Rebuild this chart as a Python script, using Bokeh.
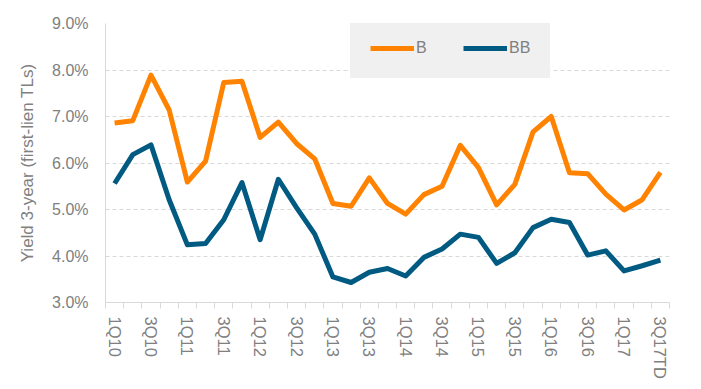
from bokeh.plotting import figure
from bokeh.models import Range1d, FixedTicker, PrintfTickFormatter, Legend, LegendItem
from bokeh.embed import file_html
from bokeh.resources import INLINE

quarters = ["1Q10", "2Q10", "3Q10", "4Q10", "1Q11", "2Q11", "3Q11", "4Q11",
            "1Q12", "2Q12", "3Q12", "4Q12", "1Q13", "2Q13", "3Q13", "4Q13",
            "1Q14", "2Q14", "3Q14", "4Q14", "1Q15", "2Q15", "3Q15", "4Q15",
            "1Q16", "2Q16", "3Q16", "4Q16", "1Q17", "2Q17", "3Q17TD"]
b_yield = [6.86, 6.91, 7.89, 7.14, 5.59, 6.04, 7.73, 7.76, 6.55, 6.88, 6.42, 6.09,
           5.13, 5.07, 5.68, 5.13, 4.90, 5.32, 5.50, 6.38, 5.90, 5.10, 5.54, 6.67,
           7.00, 5.79, 5.77, 5.33, 4.99, 5.21, 5.80]
bb_yield = [5.56, 6.18, 6.39, 5.21, 4.24, 4.27, 4.78, 5.58, 4.35, 5.65, 5.04, 4.47,
            3.55, 3.43, 3.65, 3.73, 3.57, 3.97, 4.15, 4.47, 4.40, 3.84, 4.07, 4.61,
            4.79, 4.72, 4.02, 4.11, 3.68, 3.79, 3.91]
y_ticks = [3, 4, 5, 6, 7, 8, 9]

x = list(range(len(quarters)))
FONT = "Liberation Sans"
GRAY = "#808080"
ORANGE = "#ff8300"
BLUE = "#005a82"

p = figure(width=693, height=381, output_backend="svg", toolbar_location=None,
           x_range=Range1d(-0.5, len(quarters) - 0.5), y_range=Range1d(3, 9))
p.min_border_left = 105
p.min_border_right = 24
p.min_border_top = 23
p.min_border_bottom = 77
p.outline_line_color = None
p.background_fill_color = "white"
p.border_fill_color = "white"

r_b = p.line(x, b_yield, line_color=ORANGE, line_width=5, line_join="round")
r_bb = p.line(x, bb_yield, line_color=BLUE, line_width=5, line_join="round")

# x axis
major = list(range(0, len(quarters), 2))
p.xaxis.ticker = FixedTicker(ticks=major, minor_ticks=[i - 0.5 for i in range(len(quarters) + 1)])
p.xaxis.major_label_overrides = {i: quarters[i] for i in major}
p.xaxis.major_label_orientation = "vertical"
p.xaxis.major_tick_line_color = None
p.xaxis.major_tick_out = 0
p.xaxis.major_tick_in = 0
p.xaxis.minor_tick_line_color = "#d9d9d9"
p.xaxis.minor_tick_out = 6
p.xaxis.minor_tick_in = 0
p.xaxis.axis_line_color = "#d9d9d9"
p.xaxis.major_label_text_font = FONT
p.xaxis.major_label_text_font_size = "16.5px"
p.xaxis.major_label_text_color = GRAY
p.xaxis.major_label_standoff = 8
p.xgrid.grid_line_color = None

# y axis
p.yaxis.ticker = FixedTicker(ticks=y_ticks)
p.yaxis.formatter = PrintfTickFormatter(format="%.1f%%")
p.yaxis.major_tick_line_color = None
p.yaxis.minor_tick_line_color = None
p.yaxis.major_tick_out = 0
p.yaxis.axis_line_color = "#d9d9d9"
p.yaxis.major_label_text_font = FONT
p.yaxis.major_label_text_font_size = "16px"
p.yaxis.major_label_text_color = GRAY
p.yaxis.major_label_standoff = 17
p.yaxis.axis_label = "Yield 3-year (first-lien TLs)"
p.yaxis.axis_label_text_font = FONT
p.yaxis.axis_label_text_font_size = "17px"
p.yaxis.axis_label_text_font_style = "normal"
p.yaxis.axis_label_text_color = GRAY
p.yaxis.axis_label_standoff = 12
p.ygrid.grid_line_color = "#d9d9d9"
p.ygrid.grid_line_dash = "4 3"

legend = Legend(items=[LegendItem(label="B", renderers=[r_b]),
                       LegendItem(label="BB", renderers=[r_bb])],
                orientation="horizontal", location=(245, 224),
                background_fill_color="#f0f0f0", background_fill_alpha=1,
                border_line_color="#f0f0f0", border_line_width=1,
                padding=19, spacing=27,
                glyph_width=44, label_standoff=2,
                label_text_font=FONT, label_text_font_size="16px",
                label_text_color=GRAY)
p.add_layout(legend, "center")

open("out.html", "w").write(file_html(p, INLINE))
